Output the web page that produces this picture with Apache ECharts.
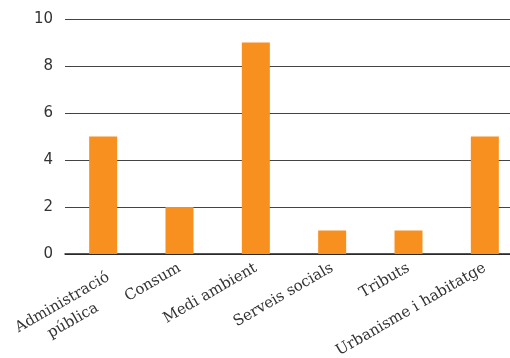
<!DOCTYPE html>
<html>
<head>
<meta charset="utf-8">
<script src="https://cdn.jsdelivr.net/npm/echarts@6/dist/echarts.min.js"></script>
<style>
  html, body { margin: 0; padding: 0; background: #fff; }
  #chart { width: 510px; height: 358px; }
</style>
</head>
<body>
<div id="chart"></div>
<script>
const categories = ['Administració\npública', 'Consum', 'Medi ambient', 'Serveis socials', 'Tributs', 'Urbanisme i habitatge'];
const values = [5, 2, 9, 1, 1, 5];

// amplada del text per centrar les línies de les etiquetes de dues línies
const ctx = document.createElement('canvas').getContext('2d');
ctx.font = '15px "DejaVu Serif"';
const textWidth = s => Math.ceil(ctx.measureText(s).width);
const twoLineWidth = Math.max(...categories.filter(c => c.indexOf('\n') >= 0)
  .flatMap(c => c.split('\n')).map(textWidth));

const myChart = echarts.init(document.getElementById('chart'));
myChart.setOption({
  animation: false,
  grid: { left: 65, right: -13, top: 19, bottom: 104, outerBoundsMode: 'none', containLabel: false },
  xAxis: {
    type: 'category',
    data: categories.map(c => (c.indexOf('\n') >= 0
      ? { value: c, textStyle: { verticalAlign: 'top' } }
      : c)),
    axisTick: { show: false },
    axisLine: { lineStyle: { color: '#222', width: 1.5 } },
    axisLabel: {
      rotate: 30,
      interval: 0,
      margin: 13,
      color: '#333',
      fontSize: 15,
      fontFamily: 'DejaVu Serif',
      lineHeight: 21,
      formatter(value) {
        if (value.indexOf('\n') < 0) return value;
        return value.split('\n').map(l => `{c|${l}}`).join('\n');
      },
      rich: {
        c: {
          width: twoLineWidth,
          align: 'center',
          fontSize: 15,
          fontFamily: 'DejaVu Serif',
          color: '#333',
          lineHeight: 21,
        },
      },
    },
  },
  yAxis: {
    type: 'value',
    min: 0,
    max: 10,
    interval: 2,
    axisLine: { show: false },
    axisTick: { show: false },
    splitLine: { lineStyle: { color: '#444', width: 1 } },
    axisLabel: {
      color: '#333',
      fontSize: 15,
      fontFamily: 'DejaVu Sans',
      margin: 12,
    },
  },
  series: [{
    type: 'bar',
    data: values,
    barWidth: 28,
    itemStyle: { color: '#F7901E' },
  }],
});
</script>
</body>
</html>
